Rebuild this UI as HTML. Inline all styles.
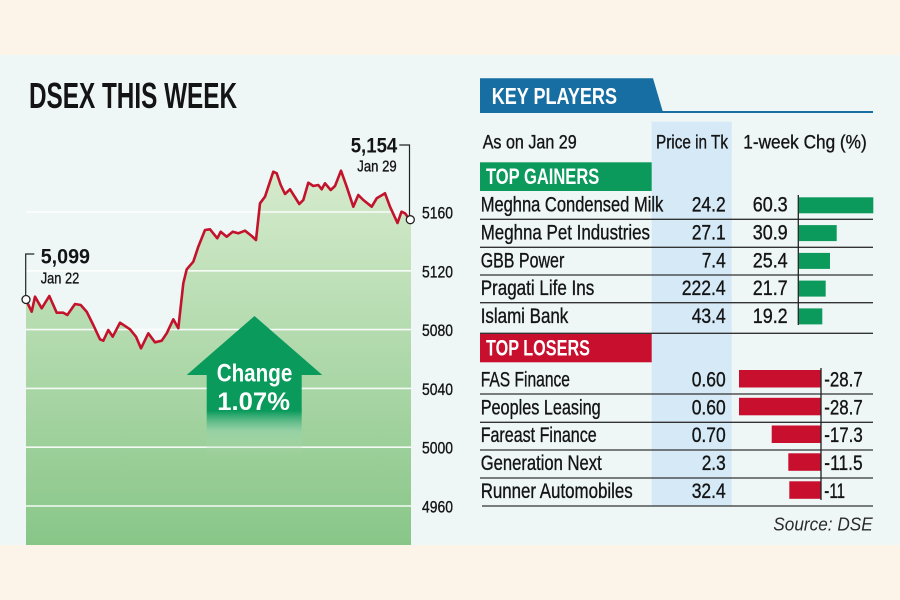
<!DOCTYPE html>
<html><head><meta charset="utf-8"><style>
html,body{margin:0;padding:0;background:#fdf4e9;}
svg{display:block;}
text{font-family:"Liberation Sans",sans-serif;fill:#141414;}
.b{font-weight:bold;}
.m{stroke:#141414;stroke-width:0.35;}
</style></head><body>
<svg width="900" height="600" viewBox="0 0 900 600" xmlns="http://www.w3.org/2000/svg">
<defs>
<linearGradient id="gf" x1="0" y1="170" x2="0" y2="545" gradientUnits="userSpaceOnUse">
<stop offset="0" stop-color="#d6ebcd"/><stop offset="1" stop-color="#88c688"/>
</linearGradient>
<linearGradient id="ga" x1="0" y1="374" x2="0" y2="456" gradientUnits="userSpaceOnUse">
<stop offset="0" stop-color="#0a9a5c" stop-opacity="1"/>
<stop offset="0.45" stop-color="#0a9a5c" stop-opacity="1"/>
<stop offset="0.7" stop-color="#8fd0a8" stop-opacity="0.6"/>
<stop offset="1" stop-color="#b6dcb0" stop-opacity="0"/>
</linearGradient>
</defs>
<rect x="0" y="0" width="900" height="600" fill="#fdf4e9"/>
<rect x="0" y="55" width="900" height="490" fill="#eef7f6"/>

<!-- Title -->
<text x="29" y="108" class="b" font-size="36" textLength="208" lengthAdjust="spacingAndGlyphs">DSEX THIS WEEK</text>

<!-- Chart fill -->
<path fill="url(#gf)" d="M26,300 L31.7,311.7 L35,296.7 L41.7,308.3 L49.3,296 L56.7,312.7 L63.3,312.7 L67.3,315 L75,304 L80.7,305 L86.7,311.7 L93.3,325 L100,339.3 L103.3,340.7 L108.3,330 L112.7,336.7 L120,322.7 L130,329.3 L136,336.7 L141,348.3 L148.3,333.3 L155,342.3 L161.7,340.7 L166.7,333.3 L173.3,319.3 L178.3,328.3 L183.3,283.3 L186.7,269.3 L193.3,261.7 L198.3,246.7 L205,230 L210,229.3 L217.3,238.3 L220.7,231.7 L226.7,236.7 L232.7,231.7 L238.3,233.3 L245,230.7 L251.7,236 L256,240 L260,203.3 L265,196.7 L273.3,171.7 L276.7,173.3 L280.7,185 L285,194 L290,189.3 L299.3,204 L303.3,200 L308.3,182.7 L313.3,186 L318.3,185 L321.7,189.3 L325,183.3 L330.7,190 L335,186 L341,170.7 L346.7,186.7 L353.3,206.7 L358.3,195 L363.3,200 L371.7,206.7 L376.7,198.3 L385,193.3 L390,206.7 L397.5,223 L401.5,211.7 L405,213.3 L410,220 L411,220 L411,545 L26,545 Z"/>

<!-- grid -->
<g stroke="#ffffff" stroke-width="1.6" opacity="0.9">
<line x1="26" y1="212" x2="411" y2="212"/>
<line x1="26" y1="270.8" x2="411" y2="270.8"/>
<line x1="26" y1="329.6" x2="411" y2="329.6"/>
<line x1="26" y1="388.4" x2="411" y2="388.4"/>
<line x1="26" y1="447.2" x2="411" y2="447.2"/>
<line x1="26" y1="506" x2="411" y2="506"/>
</g>

<!-- Arrow -->
<polygon points="186.7,375 254.5,316 322.3,375" fill="#0a9a5c"/>
<rect x="206.7" y="374" width="95" height="82" fill="url(#ga)"/>
<text x="216.7" y="381.7" class="b" font-size="25" style="fill:#fff" textLength="75.6" lengthAdjust="spacingAndGlyphs">Change</text>
<text x="217.3" y="410" class="b" font-size="25" style="fill:#fff" textLength="72.7" lengthAdjust="spacingAndGlyphs">1.07%</text>

<!-- line -->
<polyline fill="none" stroke="#c3132c" stroke-width="2.6" stroke-linejoin="round" points="26,300 31.7,311.7 35,296.7 41.7,308.3 49.3,296 56.7,312.7 63.3,312.7 67.3,315 75,304 80.7,305 86.7,311.7 93.3,325 100,339.3 103.3,340.7 108.3,330 112.7,336.7 120,322.7 130,329.3 136,336.7 141,348.3 148.3,333.3 155,342.3 161.7,340.7 166.7,333.3 173.3,319.3 178.3,328.3 183.3,283.3 186.7,269.3 193.3,261.7 198.3,246.7 205,230 210,229.3 217.3,238.3 220.7,231.7 226.7,236.7 232.7,231.7 238.3,233.3 245,230.7 251.7,236 256,240 260,203.3 265,196.7 273.3,171.7 276.7,173.3 280.7,185 285,194 290,189.3 299.3,204 303.3,200 308.3,182.7 313.3,186 318.3,185 321.7,189.3 325,183.3 330.7,190 335,186 341,170.7 346.7,186.7 353.3,206.7 358.3,195 363.3,200 371.7,206.7 376.7,198.3 385,193.3 390,206.7 397.5,223 401.5,211.7 405,213.3 410,220"/>

<!-- callouts -->
<polyline fill="none" stroke="#222" stroke-width="1.2" points="34.3,254 25.7,254 25.7,296"/>
<polyline fill="none" stroke="#222" stroke-width="1.2" points="399.3,145 409.5,145 409.5,216"/>
<circle cx="26" cy="299.5" r="4" fill="#fff" stroke="#222" stroke-width="1.3"/>
<circle cx="410.3" cy="219.7" r="4" fill="#fff" stroke="#222" stroke-width="1.3"/>
<text x="40.7" y="263.3" class="b" font-size="21" textLength="49.3" lengthAdjust="spacingAndGlyphs">5,099</text>
<text x="40.7" y="283.3" font-size="16" class="m" textLength="38.6" lengthAdjust="spacingAndGlyphs">Jan 22</text>
<text x="350.7" y="152.7" class="b" font-size="21" textLength="46.6" lengthAdjust="spacingAndGlyphs">5,154</text>
<text x="357.3" y="171.7" font-size="16" class="m" textLength="39.4" lengthAdjust="spacingAndGlyphs">Jan 29</text>

<!-- y labels -->
<g font-size="17" class="m">
<text x="422" y="218.5" textLength="31" lengthAdjust="spacingAndGlyphs">5160</text>
<text x="422" y="277.3" textLength="31" lengthAdjust="spacingAndGlyphs">5120</text>
<text x="422" y="336.1" textLength="31" lengthAdjust="spacingAndGlyphs">5080</text>
<text x="422" y="394.9" textLength="31" lengthAdjust="spacingAndGlyphs">5040</text>
<text x="422" y="453.7" textLength="31" lengthAdjust="spacingAndGlyphs">5000</text>
<text x="422" y="512.5" textLength="31" lengthAdjust="spacingAndGlyphs">4960</text>
</g>

<!-- Right panel -->
<polygon points="480,78.3 653,78.3 663,112.3 480,112.3" fill="#166ea2"/>
<line x1="480" y1="112" x2="873" y2="112" stroke="#166ea2" stroke-width="2"/>
<text x="491.7" y="104" class="b" font-size="23" style="fill:#fff" textLength="125.3" lengthAdjust="spacingAndGlyphs">KEY PLAYERS</text>

<rect x="651.7" y="121.7" width="80" height="384.3" fill="#d5e9f7"/>

<g font-size="19" class="m">
<text x="482.7" y="148.3" textLength="94" lengthAdjust="spacingAndGlyphs">As on Jan 29</text>
<text x="656" y="148.3" textLength="72" lengthAdjust="spacingAndGlyphs">Price in Tk</text>
<text x="743.3" y="148.3" textLength="123.4" lengthAdjust="spacingAndGlyphs">1-week Chg (%)</text>
</g>

<rect x="480" y="162.3" width="171.7" height="28.7" fill="#0c9a5c"/>
<text x="486" y="184" class="b" font-size="22" style="fill:#fff" textLength="113.3" lengthAdjust="spacingAndGlyphs">TOP GAINERS</text>

<g stroke="#333" stroke-width="1.3">
<line x1="480" y1="219.3" x2="873" y2="219.3"/>
<line x1="480" y1="247.3" x2="873" y2="247.3"/>
<line x1="480" y1="275" x2="873" y2="275"/>
<line x1="480" y1="302.7" x2="873" y2="302.7"/>
<line x1="480" y1="333.3" x2="873" y2="333.3"/>
<line x1="480" y1="394" x2="873" y2="394"/>
<line x1="480" y1="422.3" x2="873" y2="422.3"/>
<line x1="480" y1="450" x2="873" y2="450"/>
<line x1="480" y1="478" x2="873" y2="478"/>
<line x1="482" y1="506" x2="873" y2="506"/>
</g>

<!-- gainers -->
<g font-size="21" class="m">
<text x="480.7" y="211.7" textLength="182.6" lengthAdjust="spacingAndGlyphs">Meghna Condensed Milk</text>
<text x="480.7" y="239.5" textLength="169.3" lengthAdjust="spacingAndGlyphs">Meghna Pet Industries</text>
<text x="480.7" y="267.3" textLength="83.6" lengthAdjust="spacingAndGlyphs">GBB Power</text>
<text x="480.7" y="295" textLength="113.6" lengthAdjust="spacingAndGlyphs">Pragati Life Ins</text>
<text x="480.7" y="322.8" textLength="87.6" lengthAdjust="spacingAndGlyphs">Islami Bank</text>

<text x="691.7" y="211.7" textLength="34" lengthAdjust="spacingAndGlyphs">24.2</text>
<text x="691.7" y="239.5" textLength="34" lengthAdjust="spacingAndGlyphs">27.1</text>
<text x="701.7" y="267.3" textLength="24" lengthAdjust="spacingAndGlyphs">7.4</text>
<text x="681.7" y="295" textLength="44" lengthAdjust="spacingAndGlyphs">222.4</text>
<text x="691.7" y="322.8" textLength="34" lengthAdjust="spacingAndGlyphs">43.4</text>

<text x="752.7" y="211.7" textLength="35" lengthAdjust="spacingAndGlyphs">60.3</text>
<text x="752.7" y="239.5" textLength="35" lengthAdjust="spacingAndGlyphs">30.9</text>
<text x="752.7" y="267.3" textLength="35" lengthAdjust="spacingAndGlyphs">25.4</text>
<text x="752.7" y="295" textLength="35" lengthAdjust="spacingAndGlyphs">21.7</text>
<text x="752.7" y="322.8" textLength="35" lengthAdjust="spacingAndGlyphs">19.2</text>
</g>
<g fill="#0c9a5c">
<rect x="799" y="197.3" width="74.3" height="16"/>
<rect x="799" y="225.1" width="37.7" height="16"/>
<rect x="799" y="252.9" width="31" height="16"/>
<rect x="799" y="280.6" width="26.7" height="16"/>
<rect x="799" y="308.4" width="23.3" height="16"/>
</g>
<line x1="798.3" y1="195" x2="798.3" y2="325" stroke="#222" stroke-width="1.3"/>

<!-- losers -->
<rect x="480" y="334" width="171.7" height="28.3" fill="#c8102e"/>
<text x="486" y="355.7" class="b" font-size="22" style="fill:#fff" textLength="104" lengthAdjust="spacingAndGlyphs">TOP LOSERS</text>

<g font-size="21" class="m">
<text x="480.7" y="386.7" textLength="89.3" lengthAdjust="spacingAndGlyphs">FAS Finance</text>
<text x="480.7" y="414.5" textLength="120" lengthAdjust="spacingAndGlyphs">Peoples Leasing</text>
<text x="480.7" y="442.2" textLength="116" lengthAdjust="spacingAndGlyphs">Fareast Finance</text>
<text x="480.7" y="470" textLength="121" lengthAdjust="spacingAndGlyphs">Generation Next</text>
<text x="480.7" y="498" textLength="152" lengthAdjust="spacingAndGlyphs">Runner Automobiles</text>

<text x="691.7" y="386.7" textLength="34" lengthAdjust="spacingAndGlyphs">0.60</text>
<text x="691.7" y="414.5" textLength="34" lengthAdjust="spacingAndGlyphs">0.60</text>
<text x="691.7" y="442.2" textLength="34" lengthAdjust="spacingAndGlyphs">0.70</text>
<text x="701.7" y="470" textLength="24" lengthAdjust="spacingAndGlyphs">2.3</text>
<text x="691.7" y="498" textLength="34" lengthAdjust="spacingAndGlyphs">32.4</text>

<text x="824.3" y="386.7" textLength="38.4" lengthAdjust="spacingAndGlyphs">-28.7</text>
<text x="824.3" y="414.5" textLength="38.4" lengthAdjust="spacingAndGlyphs">-28.7</text>
<text x="824.3" y="442.2" textLength="38.4" lengthAdjust="spacingAndGlyphs">-17.3</text>
<text x="824.3" y="470" textLength="38.4" lengthAdjust="spacingAndGlyphs">-11.5</text>
<text x="824.3" y="498" textLength="20.7" lengthAdjust="spacingAndGlyphs">-11</text>
</g>
<g fill="#c8102e">
<rect x="739" y="370" width="82" height="17.5"/>
<rect x="739" y="397.8" width="82" height="17.5"/>
<rect x="771.7" y="425.5" width="49.3" height="17.5"/>
<rect x="788.3" y="453.3" width="32.7" height="17.5"/>
<rect x="789.3" y="481.3" width="31.7" height="17.5"/>
</g>
<line x1="821" y1="368" x2="821" y2="500" stroke="#222" stroke-width="1.3"/>

<text x="773.3" y="530.7" font-size="18" font-style="italic" style="fill:#2a2a2a" textLength="99.4" lengthAdjust="spacingAndGlyphs">Source: DSE</text>
</svg>
</body></html>
